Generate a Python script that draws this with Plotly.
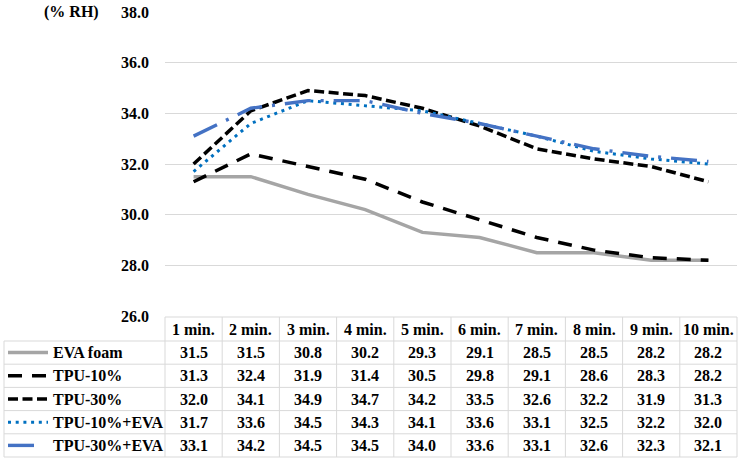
import plotly.graph_objects as go

# ---- data ----
categories = ["1 min.", "2 min.", "3 min.", "4 min.", "5 min.",
              "6 min.", "7 min.", "8 min.", "9 min.", "10 min."]
series_names = ["EVA foam", "TPU-10%", "TPU-30%", "TPU-10%+EVA", "TPU-30%+EVA"]
eva_foam = [31.5, 31.5, 30.8, 30.2, 29.3, 29.1, 28.5, 28.5, 28.2, 28.2]
tpu_10 = [31.3, 32.4, 31.9, 31.4, 30.5, 29.8, 29.1, 28.6, 28.3, 28.2]
tpu_30 = [32.0, 34.1, 34.9, 34.7, 34.2, 33.5, 32.6, 32.2, 31.9, 31.3]
tpu_10_eva = [31.7, 33.6, 34.5, 34.3, 34.1, 33.6, 33.1, 32.5, 32.2, 32.0]
tpu_30_eva = [33.1, 34.2, 34.5, 34.5, 34.0, 33.6, 33.1, 32.6, 32.3, 32.1]
y_ticks = [26, 28, 30, 32, 34, 36, 38]
y_unit = "(% RH)"

series_values = [eva_foam, tpu_10, tpu_30, tpu_10_eva, tpu_30_eva]

# ---- styles ----
styles = [
    dict(color="#a5a5a5", width=3.5, dash="solid"),
    dict(color="#000000", width=3.5, dash="14px,10px"),
    dict(color="#000000", width=3.5, dash="10px,4.5px"),
    dict(color="#0070c0", width=3, dash="3px,4.7px"),
    dict(color="#4472c4", width=3.4, dash="26px,10px,3px,10px"),
]
key_spans = [(8, 48), (8, 48), (8, 47), (8, 48), (8, 40)]

W, H = 740, 461
L, R, T, B = 165, 3, 12, 145
PW = W - L - R
PH = H - T - B
FONT = "Liberation Serif, Times New Roman, Times, serif"
GRID = "#d9d9d9"


def px_x(px):
    return (px - L) / PW


def px_y(py):
    return (H - B - py) / PH


fig = go.Figure()
for name, vals, st in zip(series_names, series_values, styles):
    fig.add_trace(go.Scatter(
        x=categories, y=vals, mode="lines", name=name,
        line=dict(color=st["color"], width=st["width"], dash=st["dash"]),
        showlegend=False, hoverinfo="skip",
    ))

shapes = []
annotations = []

# table geometry (pixels)
header_top = 317
header_bot = 341
row_h = (457 - 341) / 5
row_edges = [header_bot + i * row_h for i in range(6)]
table_left = 4
n = len(categories)

line_style = dict(color=GRID, width=1)
shapes.append(dict(type="line", xref="paper", yref="paper",
                   x0=0, x1=1, y0=px_y(header_top), y1=px_y(header_top),
                   line=line_style))
for ry in row_edges:
    shapes.append(dict(type="line", xref="paper", yref="paper",
                       x0=px_x(table_left), x1=1, y0=px_y(ry), y1=px_y(ry),
                       line=line_style))
shapes.append(dict(type="line", xref="paper", yref="paper",
                   x0=px_x(table_left), x1=px_x(table_left),
                   y0=px_y(row_edges[0]), y1=px_y(row_edges[-1]),
                   line=line_style))
for k in range(n + 1):
    shapes.append(dict(type="line", xref="paper", yref="paper",
                       x0=k / n, x1=k / n,
                       y0=px_y(header_top), y1=px_y(row_edges[-1]),
                       line=line_style))

cell_font = dict(family=FONT, size=16, color="#000000", weight="bold")

for c in categories:
    annotations.append(dict(x=c, xref="x", yref="paper",
                            y=px_y((header_top + header_bot) / 2),
                            text=c, showarrow=False, font=cell_font,
                            xanchor="center", yanchor="middle"))

for i, (name, vals, st) in enumerate(zip(series_names, series_values, styles)):
    yc = px_y((row_edges[i] + row_edges[i + 1]) / 2)
    for c, v in zip(categories, vals):
        annotations.append(dict(x=c, xref="x", yref="paper", y=yc,
                                text=f"{v:.1f}", showarrow=False, font=cell_font,
                                xanchor="center", yanchor="middle"))
    annotations.append(dict(x=px_x(51), xref="paper", yref="paper", y=yc,
                            text=name, showarrow=False, font=cell_font,
                            xanchor="left", yanchor="middle"))
    k0, k1 = key_spans[i]
    shapes.append(dict(type="line", xref="paper", yref="paper",
                       x0=px_x(k0), x1=px_x(k1), y0=yc, y1=yc,
                       line=dict(color=st["color"], width=st["width"], dash=st["dash"])))

annotations.append(dict(x=px_x(71), xref="paper", yref="paper", y=px_y(12),
                        text=y_unit, showarrow=False, font=cell_font,
                        xanchor="center", yanchor="middle"))

fig.update_layout(
    width=W, height=H,
    margin=dict(l=L, r=R, t=T, b=B, pad=0),
    paper_bgcolor="white", plot_bgcolor="white",
    font=dict(family=FONT, color="#000000"),
    shapes=shapes, annotations=annotations,
    xaxis=dict(type="category", range=[-0.5, n - 0.5], showticklabels=False,
               showgrid=False, showline=False, zeroline=False, ticks=""),
    yaxis=dict(range=[y_ticks[0], y_ticks[-1]], tickvals=y_ticks,
               tickformat=".1f", showgrid=True, gridcolor=GRID, gridwidth=1,
               zeroline=False, showline=False, ticks="",
               ticklabelstandoff=15,
               tickfont=dict(family=FONT, size=16, color="#000000", weight="bold")),
)

fig.write_html("out.html",
               config={"displayModeBar": False},
               post_script="document.body.style.margin='0';document.body.style.padding='0';")
